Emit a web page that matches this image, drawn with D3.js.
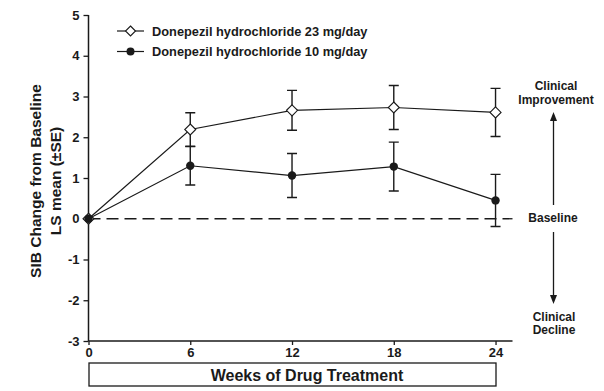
<!DOCTYPE html>
<html><head><meta charset="utf-8">
<script src="https://cdn.jsdelivr.net/npm/d3@7"></script>
<style>body{margin:0;background:#fff}text{font-family:"Liberation Sans",Arial,sans-serif;font-weight:bold;fill:#1a1a1a}</style>
</head><body>
<svg id="c" width="604" height="391"></svg>
<script>
const weeks = [0, 6, 12, 18, 24];
const dose23 = [0, 2.19, 2.66, 2.73, 2.61];
const dose23SE = [0, 0.41, 0.49, 0.54, 0.59];
const dose10 = [0, 1.30, 1.06, 1.28, 0.45];
const dose10SE = [0, 0.47, 0.54, 0.60, 0.64];
const yTicks = [-3, -2, -1, 0, 1, 2, 3, 4, 5];
const xTicks = [0, 6, 12, 18, 24];
const legendLabels = ["Donepezil hydrochloride 23 mg/day", "Donepezil hydrochloride 10 mg/day"];

const svg = d3.select("#c");
const ink = "#1a1a1a";
const x = d3.scaleLinear().domain([0, 25]).range([88.5, 512.5]);
const y = d3.scaleLinear().domain([-3, 5]).range([341, 15]);

// axes
const yAxis = svg.append("g").attr("transform", "translate(88.5,0)")
  .call(d3.axisLeft(y).tickValues(yTicks).tickSize(5).tickSizeOuter(0).tickFormat(d => String(d)));
yAxis.select(".domain").attr("stroke", ink).attr("stroke-width", 1.5).attr("d", `M0,${y(5)}V${y(-3)}`);
yAxis.selectAll(".tick line").attr("stroke", ink).attr("stroke-width", 1.3);
yAxis.selectAll(".tick text").attr("font-size", 13).attr("x", -9).attr("fill", ink);

const xAxis = svg.append("g").attr("transform", `translate(0,${y(-3)})`)
  .call(d3.axisBottom(x).tickValues(xTicks).tickSize(4).tickSizeOuter(0).tickFormat(d => String(d)));
xAxis.select(".domain").attr("stroke", ink).attr("stroke-width", 1.5).attr("d", `M${x(0)},0H${x(25)}`);
xAxis.selectAll(".tick line").attr("stroke", ink).attr("stroke-width", 1.3);
xAxis.selectAll(".tick text").attr("font-size", 13).attr("y", 7).attr("fill", ink);
svg.selectAll("g").attr("font-family", null);

// baseline dashed
svg.append("line").attr("x1", x(0)).attr("x2", x(25)).attr("y1", y(0)).attr("y2", y(0))
  .attr("stroke", ink).attr("stroke-width", 1.3).attr("stroke-dasharray", "12,6");

const line = d3.line().x((d, i) => x(weeks[i])).y(d => y(d));

function series(vals, se, filled) {
  const g = svg.append("g");
  g.append("path").attr("d", line(vals)).attr("fill", "none").attr("stroke", ink).attr("stroke-width", 1.2);
  vals.forEach((v, i) => {
    if (se[i] > 0) {
      const cx = x(weeks[i]);
      g.append("path").attr("d", `M${cx},${y(v + se[i])}V${y(v - se[i])}M${cx - 5},${y(v + se[i])}H${cx + 5}M${cx - 5},${y(v - se[i])}H${cx + 5}`)
        .attr("stroke", ink).attr("stroke-width", 1.4).attr("fill", "none");
    }
  });
  vals.forEach((v, i) => {
    const cx = x(weeks[i]), cy = y(v);
    if (filled) g.append("circle").attr("cx", cx).attr("cy", cy).attr("r", 4.2).attr("fill", ink);
    else g.append("path").attr("d", `M${cx},${cy - 5.5}L${cx + 5.5},${cy}L${cx},${cy + 5.5}L${cx - 5.5},${cy}Z`)
      .attr("fill", "#fff").attr("stroke", ink).attr("stroke-width", 1.1);
  });
}
series(dose23, dose23SE, false);
series(dose10, dose10SE, true);

// legend
legendLabels.forEach((lab, i) => {
  const ly = 31 + i * 20.5;
  svg.append("line").attr("x1", 117).attr("x2", 144).attr("y1", ly).attr("y2", ly).attr("stroke", ink).attr("stroke-width", 1.2);
  if (i === 0) svg.append("path").attr("d", `M130.5,${ly - 5}L135.5,${ly}L130.5,${ly + 5}L125.5,${ly}Z`).attr("fill", "#fff").attr("stroke", ink).attr("stroke-width", 1.1);
  else svg.append("circle").attr("cx", 130.5).attr("cy", ly).attr("r", 4).attr("fill", ink);
  svg.append("text").attr("x", 152).attr("y", ly + 4.5).attr("font-size", 12.8).text(lab);
});

// y label
const yl = svg.append("text").attr("transform", "translate(41,181) rotate(-90)").attr("text-anchor", "middle").attr("font-size", 15.5);
yl.append("tspan").attr("x", 0).attr("y", 0).text("SIB Change from Baseline");
yl.append("tspan").attr("x", 0).attr("y", 20).text("LS mean (±SE)");

// x label box
svg.append("rect").attr("x", 89).attr("y", 363).attr("width", 407).attr("height", 23).attr("fill", "none").attr("stroke", ink).attr("stroke-width", 1.3);
svg.append("text").attr("x", 307).attr("y", 381).attr("text-anchor", "middle").attr("font-size", 16).text("Weeks of Drug Treatment");

// right annotations
const ax = 553.5;
svg.append("text").attr("x", 556).attr("y", 90).attr("text-anchor", "middle").attr("font-size", 12).text("Clinical");
svg.append("text").attr("x", 556).attr("y", 104).attr("text-anchor", "middle").attr("font-size", 12).text("Improvement");
svg.append("text").attr("x", 553).attr("y", 222).attr("text-anchor", "middle").attr("font-size", 12).text("Baseline");
svg.append("text").attr("x", 554).attr("y", 320.5).attr("text-anchor", "middle").attr("font-size", 12).text("Clinical");
svg.append("text").attr("x", 554).attr("y", 334).attr("text-anchor", "middle").attr("font-size", 12).text("Decline");
svg.append("line").attr("x1", ax).attr("x2", ax).attr("y1", 205).attr("y2", 120).attr("stroke", ink).attr("stroke-width", 1.3);
svg.append("path").attr("d", `M${ax},112L${ax + 3.5},121L${ax - 3.5},121Z`).attr("fill", ink);
svg.append("line").attr("x1", ax).attr("x2", ax).attr("y1", 232).attr("y2", 296).attr("stroke", ink).attr("stroke-width", 1.3);
svg.append("path").attr("d", `M${ax},304L${ax + 3.5},295L${ax - 3.5},295Z`).attr("fill", ink);
</script>
</body></html>
